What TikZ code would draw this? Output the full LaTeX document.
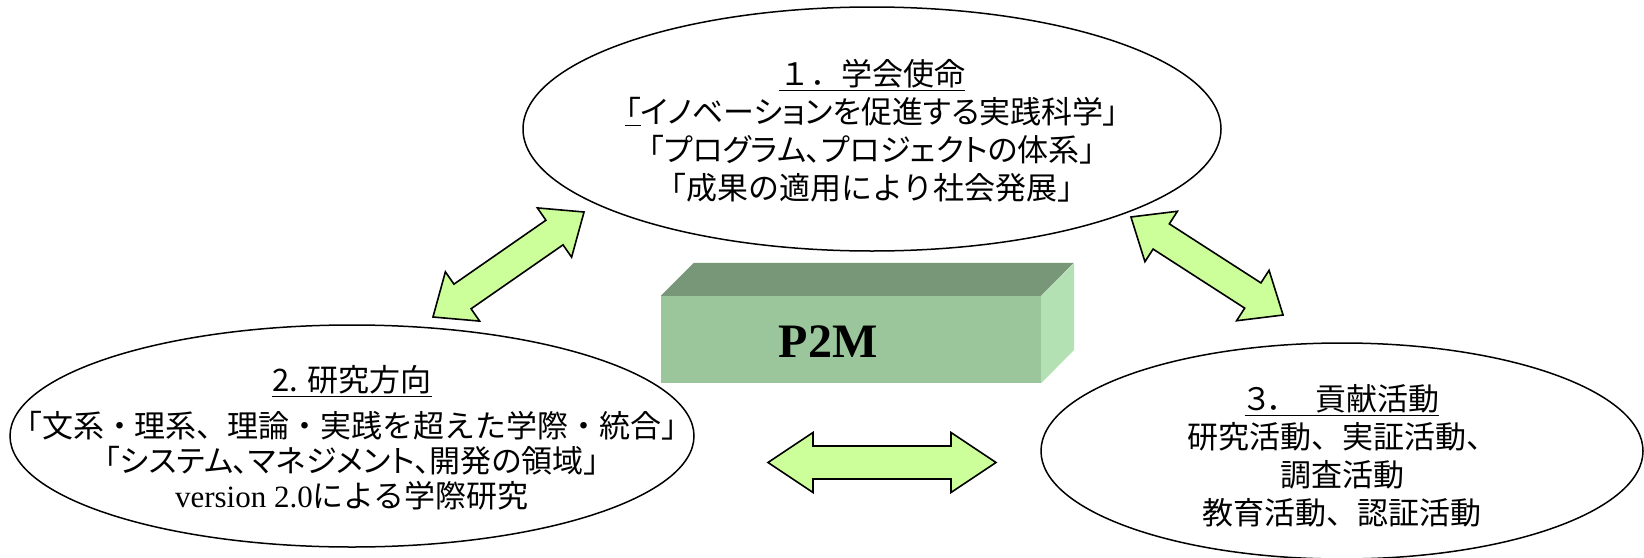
\documentclass[tikz,border=0pt]{standalone}
\usepackage{fontspec}
\setmainfont{Liberation Serif}
\newfontfamily\jp{Noto Sans CJK JP}
\newfontfamily\jpp[RawFeature=+palt]{Noto Sans CJK JP}
\usetikzlibrary{shapes.geometric}
\definecolor{arrowgreen}{HTML}{CCFF99}
\definecolor{boxfront}{HTML}{9BC59B}
\definecolor{boxtop}{HTML}{789678}
\definecolor{boxside}{HTML}{B4E1B4}
\tikzset{
  ell/.style={ellipse, draw=black, line width=1.5pt, inner sep=0pt},
  elltext/.style={align=center, inner sep=0pt, font=\jp\fontsize{31}{38}\selectfont},
  barrowline/.style={draw=black, line width=1.6pt, fill=arrowgreen, line join=miter}
}
% name, cx, cy, angle, half length, head length, body half width
\newcommand\blockarrow[7]{%
  \coordinate (#1) at (#2,#3);
  \begin{scope}[shift={(#1)}, rotate=#4]
    \filldraw[barrowline] ({-#5},0) -- ({-#5+#6},-30) -- ({-#5+#6},{-#7}) -- ({#5-#6},{-#7})
      -- ({#5-#6},-30) -- ({#5},0) -- ({#5-#6},30) -- ({#5-#6},{#7})
      -- ({-#5+#6},{#7}) -- ({-#5+#6},30) -- cycle;
  \end{scope}}
\begin{document}
\begin{tikzpicture}[x=1pt,y=-1pt]
\useasboundingbox (0,0) rectangle (1644,557);
% ellipses
\node[ell, minimum width=698, minimum height=244] (mission) at (872,129) {};
\node[elltext] (missiontext) at (872,131)
  {\underline{１．学会使命}\\
   {\jpp\underline{「}イノベーションを促進する実践科学」}\\
   {\jpp 「プログラム、プロジェクトの体系」}\\
   「成果の適用により社会発展」};
\node[ell, minimum width=684, minimum height=222] (direction) at (352,436) {};
\node[elltext] (directiontext) at (352,438)
  {\underline{2. 研究方向}\\[8pt]
   「文系・理系、理論・実践を超えた学際・統合」\\[-3pt]
   {\jpp 「システム、マネジメント、開発の領域」}\\[-3pt]
   {\rmfamily version 2.0}による学際研究};
\node[ell, minimum width=602, minimum height=216] (contrib) at (1342,451) {};
\node[elltext] (contribtext) at (1342,456)
  {{\jpp\underline{３．　貢献活動}}\\
   研究活動、実証活動、\\
   調査活動\\
   教育活動、認証活動};
% P2M box
\node[fill=boxfront, minimum width=380, minimum height=87, inner sep=0pt]
  (p2m) at (851,339.5) {};
\fill[boxtop] (p2m.north west) -- ++(33,-33) -- ++(380,0) -- (p2m.north east) -- cycle;
\fill[boxside] (p2m.north east) -- ++(33,-33) -- ++(0,87) -- (p2m.south east) -- cycle;
\node[font=\bfseries\fontsize{48}{48}\selectfont] (p2mlabel) at (828,342) {P2M};
% block arrows
\blockarrow{a1}{508.5}{264.5}{34.8}{92}{36}{15}
\blockarrow{a2}{1207}{266}{-32.8}{90.5}{36}{15}
\blockarrow{a3}{882}{462.5}{0}{114}{45}{16.5}
\end{tikzpicture}
\end{document}
